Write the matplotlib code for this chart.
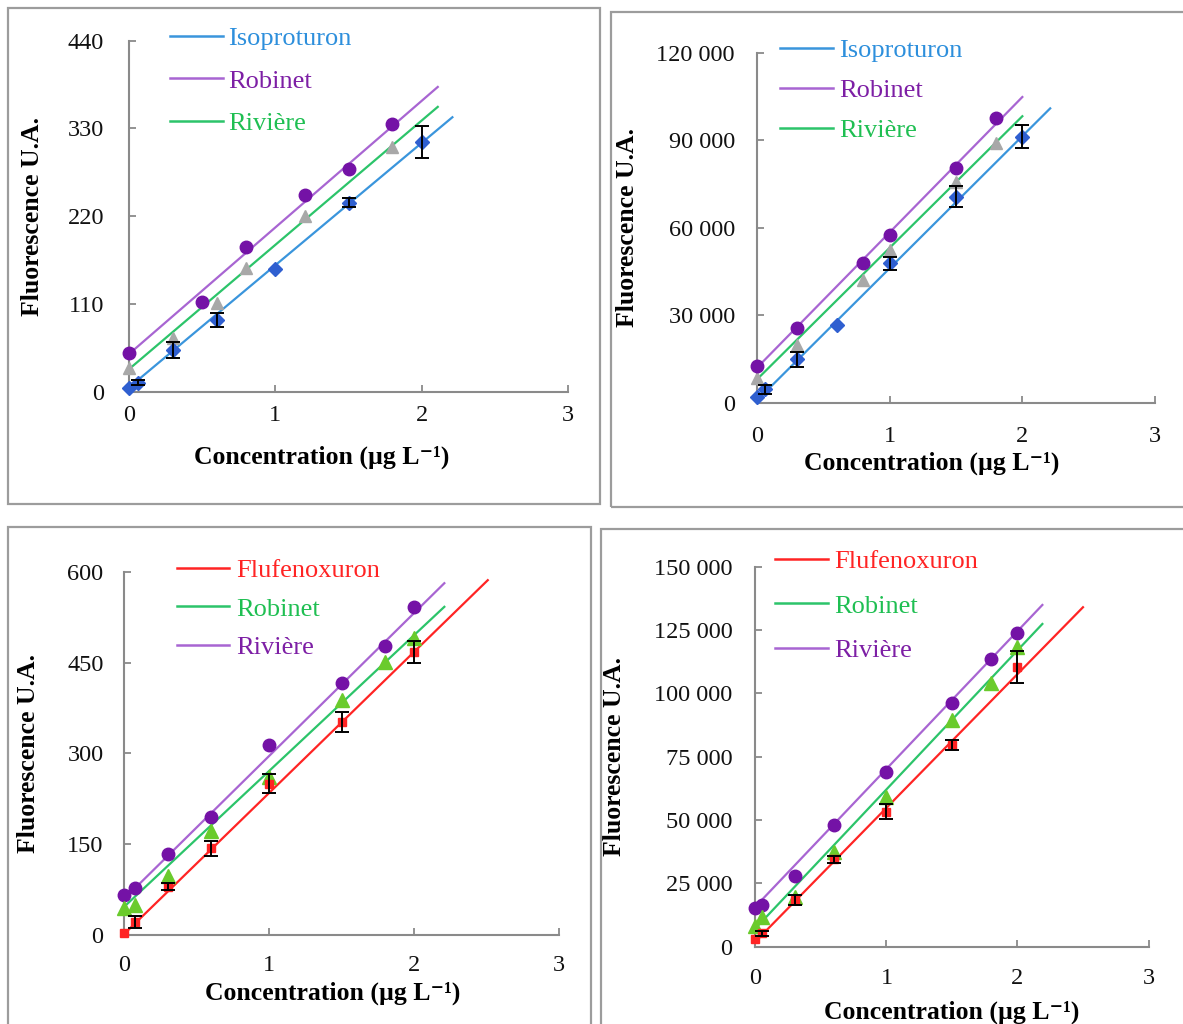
import numpy as np
import matplotlib
matplotlib.use("Agg")
import matplotlib.pyplot as plt
from matplotlib.lines import Line2D
from matplotlib.patches import Rectangle
from matplotlib.ticker import FixedLocator, FuncFormatter

plt.rcParams['font.family'] = ['Liberation Serif', 'DejaVu Serif']

# ==============================
# Data
# ==============================
# --- top left: Isoproturon, low range
p1_iso_x = [0, 0.06, 0.3, 0.6, 1.0, 1.5, 2.0]
p1_iso_y = [5, 11, 52, 90, 154, 237, 313]
p1_iso_err = [0, 3, 10, 8.5, 0, 5.6, 20]
p1_rob_x = [0, 0.5, 0.8, 1.2, 1.5, 1.8]
p1_rob_y = [48, 112, 181, 246, 279, 336]
p1_riv_x = [0, 0.3, 0.6, 0.8, 1.2, 1.8]
p1_riv_y = [30, 67, 111, 155, 220, 307]
p1_iso_fit = ([0, 2.21], [5, 344])
p1_rob_fit = ([0, 2.11], [47, 382])
p1_riv_fit = ([0, 2.11], [28, 357])

# --- top right: Isoproturon, high range
p2_iso_x = [0, 0.06, 0.3, 0.6, 1.0, 1.5, 2.0]
p2_iso_y = [2000, 4600, 14900, 26700, 47800, 70700, 91300]
p2_iso_err = [0, 1500, 2600, 0, 2300, 3700, 4000]
p2_rob_x = [0, 0.3, 0.8, 1.0, 1.5, 1.8]
p2_rob_y = [12600, 25500, 47800, 57500, 80400, 97600]
p2_riv_x = [0, 0.3, 0.8, 1.0, 1.5, 1.8]
p2_riv_y = [8400, 19800, 42100, 52400, 75800, 89000]
p2_iso_fit = ([0, 2.21], [800, 101000])
p2_rob_fit = ([0, 2.0], [12000, 104900])
p2_riv_fit = ([0, 2.0], [8000, 98300])

# --- bottom left: Flufenoxuron, low range
p3_flu_x = [0, 0.07, 0.3, 0.6, 1.0, 1.5, 2.0]
p3_flu_y = [3, 22, 80, 143, 250, 352, 468]
p3_flu_err = [0, 10, 6, 13, 16, 16, 18]
p3_rob_x = [0, 0.07, 0.3, 0.6, 1.0, 1.5, 1.8, 2.0]
p3_rob_y = [44, 50, 97, 171, 261, 388, 451, 490]
p3_riv_x = [0, 0.07, 0.3, 0.6, 1.0, 1.5, 1.8, 2.0]
p3_riv_y = [66, 77, 133, 195, 314, 416, 477, 542]
p3_flu_fit = ([0, 2.51], [2, 586])
p3_rob_fit = ([0, 2.21], [47, 542])
p3_riv_fit = ([0, 2.21], [60, 581])

# --- bottom right: Flufenoxuron, high range
p4_flu_x = [0, 0.05, 0.3, 0.6, 1.0, 1.5, 2.0]
p4_flu_y = [2900, 5300, 18400, 34500, 53300, 79600, 110500]
p4_flu_err = [0, 1000, 2000, 1300, 3000, 2000, 6300]
p4_rob_x = [0, 0.05, 0.3, 0.6, 1.0, 1.5, 1.8, 2.0]
p4_rob_y = [8150, 11800, 19700, 37500, 59200, 89500, 104000, 118400]
p4_riv_x = [0, 0.05, 0.3, 0.6, 1.0, 1.5, 1.8, 2.0]
p4_riv_y = [15100, 16400, 27900, 48000, 69000, 96300, 113400, 124000]
p4_flu_fit = ([0, 2.5], [2000, 134000])
p4_rob_fit = ([0, 2.19], [7200, 127400])
p4_riv_fit = ([0, 2.19], [15800, 134900])

x_ticks = [0, 1, 2, 3]
p1_yticks = [0, 110, 220, 330, 440]
p2_yticks = [0, 30000, 60000, 90000, 120000]
p3_yticks = [0, 150, 300, 450, 600]
p4_yticks = [0, 25000, 50000, 75000, 100000, 125000, 150000]

# ==============================
# Styles
# ==============================
BLUE_LINE, BLUE_MK, BLUE_TXT = '#3a95dc', '#2f5fd0', '#2d8fdc'
PURP_LINE, PURP_MK, PURP_TXT = '#a865d2', '#7412a6', '#7d1fa5'
GREEN_LINE, GREEN_TXT = '#2cc46a', '#1fbf52'
GREY_MK = '#a8a8a8'
LIME_MK = '#6acb2c'
RED = '#ff2424'

W, H = 1183, 1024
fig = plt.figure(figsize=(W / 100, H / 100), dpi=100)

# panel frames (pixels: x1, y1, x2, y2)
frames = [(7.5, 8, 600, 504), (611, 12, 1195, 507),
          (7.5, 527, 591, 1035), (601, 529, 1195, 1035)]
for x1, y1, x2, y2 in frames:
    fig.add_artist(Rectangle((x1 / W, 1 - y2 / H), (x2 - x1) / W, (y2 - y1) / H,
                             transform=fig.transFigure, fill=False,
                             ec='#9c9c9c', lw=1.6))


def make_axes(left, right, bottom, top):
    return fig.add_axes([left / W, 1 - bottom / H, (right - left) / W, (bottom - top) / H])


def space_thousands(v, pos):
    return f"{int(v):,}".replace(",", " ")


def style_axes(ax, yticks, ytop, xpad, ypad, ylab_x, xlab_x, xlab_y, big=False):
    ax.set_xlim(0, 3)
    ax.set_ylim(0, ytop)
    for s in ['top', 'right']:
        ax.spines[s].set_visible(False)
    for s in ['left', 'bottom']:
        ax.spines[s].set_color('#8a8a8a')
        ax.spines[s].set_linewidth(1.5)
    ax.xaxis.set_major_locator(FixedLocator(x_ticks))
    ax.yaxis.set_major_locator(FixedLocator(yticks))
    if big:
        ax.yaxis.set_major_formatter(FuncFormatter(space_thousands))
    ax.tick_params(direction='in', length=5, width=1.3, color='#8a8a8a',
                   labelsize=17.5, labelcolor='#111111')
    ax.tick_params(axis='x', pad=xpad)
    ax.tick_params(axis='y', pad=ypad)
    ax.set_ylabel("Fluorescence U.A.", fontsize=18.5, fontweight='bold')
    ax.set_xlabel("Concentration (µg L\u207b\u00b9)", fontsize=18.5, fontweight='bold')
    ax.yaxis.set_label_coords(ylab_x, 0.5)
    ax.xaxis.set_label_coords(xlab_x, xlab_y)


def fit_line(ax, fit, color):
    ax.plot(fit[0], fit[1], color=color, lw=1.6, zorder=2)


def err_points(ax, x, y, err, color, marker, ms):
    x, y, err = np.array(x), np.array(y), np.array(err)
    has = err > 0
    ax.errorbar(x[has], y[has], yerr=err[has], fmt='none', ecolor='black',
                elinewidth=1.4, capsize=5, capthick=1.4, zorder=4, clip_on=False)
    ax.plot(x, y, linestyle='none', marker=marker, ms=ms, color=color,
            zorder=3, clip_on=False)


def add_legend(ax, names, colors, txtcolors, anchor, spacing, textpad=0.45):
    handles = [Line2D([], [], color=c, lw=1.8) for c in colors]
    leg = ax.legend(handles, names, loc='upper left', bbox_to_anchor=anchor,
                    frameon=False, fontsize=19, handlelength=2.0,
                    handletextpad=textpad, labelspacing=spacing,
                    borderpad=0, borderaxespad=0)
    for t, c in zip(leg.get_texts(), txtcolors):
        t.set_color(c)


# ---------- Panel 1 ----------
ax1 = make_axes(129, 568, 391.5, 40.7)
fit_line(ax1, p1_iso_fit, BLUE_LINE)
fit_line(ax1, p1_rob_fit, PURP_LINE)
fit_line(ax1, p1_riv_fit, GREEN_LINE)
ax1.plot(p1_riv_x, p1_riv_y, ls='none', marker='^', ms=8, color=GREY_MK, zorder=3, clip_on=False)
ax1.plot(p1_rob_x, p1_rob_y, ls='none', marker='o', ms=9, color=PURP_MK, zorder=3, clip_on=False)
err_points(ax1, p1_iso_x, p1_iso_y, p1_iso_err, BLUE_MK, 'D', 7)
style_axes(ax1, p1_yticks, 440, 10, 18, -85 / 439, 0.44, -0.153)
add_legend(ax1, ['Isoproturon', 'Robinet', 'Rivière'],
           [BLUE_LINE, PURP_LINE, GREEN_LINE], [BLUE_TXT, PURP_TXT, GREEN_TXT],
           (0.093, 1.04), 0.72, textpad=0.2)

# ---------- Panel 2 ----------
ax2 = make_axes(757, 1155, 402.7, 53)
fit_line(ax2, p2_iso_fit, BLUE_LINE)
fit_line(ax2, p2_rob_fit, PURP_LINE)
fit_line(ax2, p2_riv_fit, GREEN_LINE)
ax2.plot(p2_riv_x, p2_riv_y, ls='none', marker='^', ms=9, color=GREY_MK, zorder=3, clip_on=False)
ax2.plot(p2_rob_x, p2_rob_y, ls='none', marker='o', ms=9, color=PURP_MK, zorder=3, clip_on=False)
err_points(ax2, p2_iso_x, p2_iso_y, p2_iso_err, BLUE_MK, 'D', 7)
style_axes(ax2, p2_yticks, 120000, 17, 16, -118 / 398, 0.44, -0.14, big=True)
add_legend(ax2, ['Isoproturon', 'Robinet', 'Rivière'],
           [BLUE_LINE, PURP_LINE, GREEN_LINE], [BLUE_TXT, PURP_TXT, GREEN_TXT],
           (0.058, 1.04), 0.62, textpad=0.25)

# ---------- Panel 3 ----------
ax3 = make_axes(124.4, 558.7, 935, 571.7)
fit_line(ax3, p3_flu_fit, RED)
fit_line(ax3, p3_rob_fit, GREEN_LINE)
fit_line(ax3, p3_riv_fit, PURP_LINE)
ax3.plot(p3_riv_x, p3_riv_y, ls='none', marker='o', ms=9, color=PURP_MK, zorder=3, clip_on=False)
ax3.plot(p3_rob_x, p3_rob_y, ls='none', marker='^', ms=10, color=LIME_MK, zorder=3, clip_on=False)
err_points(ax3, p3_flu_x, p3_flu_y, p3_flu_err, RED, 's', 6)
style_axes(ax3, p3_yticks, 600, 14.5, 15, -84 / 434, 0.48, -0.128)
add_legend(ax3, ['Flufenoxuron', 'Robinet', 'Rivière'],
           [RED, GREEN_LINE, PURP_LINE], [RED, GREEN_TXT, PURP_TXT],
           (0.12, 1.035), 0.56, textpad=0.25)

# ---------- Panel 4 ----------
ax4 = make_axes(755.4, 1148.5, 946.7, 566.7)
fit_line(ax4, p4_flu_fit, RED)
fit_line(ax4, p4_rob_fit, GREEN_LINE)
fit_line(ax4, p4_riv_fit, PURP_LINE)
ax4.plot(p4_riv_x, p4_riv_y, ls='none', marker='o', ms=9, color=PURP_MK, zorder=3, clip_on=False)
ax4.plot(p4_rob_x, p4_rob_y, ls='none', marker='^', ms=10, color=LIME_MK, zorder=3, clip_on=False)
err_points(ax4, p4_flu_x, p4_flu_y, p4_flu_err, RED, 's', 6)
style_axes(ax4, p4_yticks, 150000, 15, 16.5, -129 / 393, 0.5, -0.141, big=True)
add_legend(ax4, ['Flufenoxuron', 'Robinet', 'Rivière'],
           [RED, GREEN_LINE, PURP_LINE], [RED, GREEN_TXT, PURP_TXT],
           (0.05, 1.045), 0.8, textpad=0.25)

fig.savefig("out.png", dpi=100)
